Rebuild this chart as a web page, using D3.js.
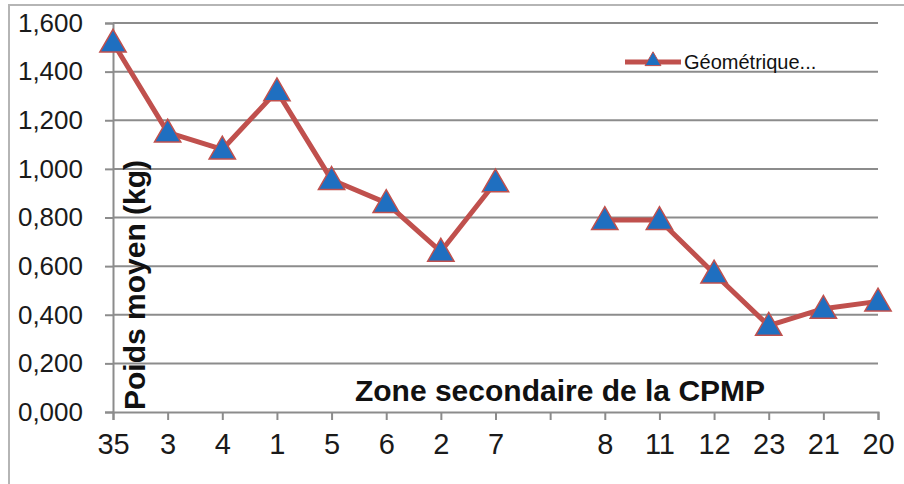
<!DOCTYPE html>
<html>
<head>
<meta charset="utf-8">
<script src="https://cdn.jsdelivr.net/npm/d3@7"></script>
<style>
  body { margin: 0; background: #fff; }
  text { font-family: "Liberation Sans", Arial, sans-serif; }
</style>
</head>
<body>
<div id="chart"></div>
<script>
// Zones (blank slot between 7 and 8 is kept as in the original)
var zones = ["35", "3", "4", "1", "5", "6", "2", "7", "", "8", "11", "12", "23", "21", "20"];
var poids = [1.52, 1.15, 1.08, 1.32, 0.955, 0.86, 0.66, 0.945, null, 0.79, 0.79, 0.57, 0.355, 0.425, 0.455];
var yTicks = [0, 0.2, 0.4, 0.6, 0.8, 1.0, 1.2, 1.4, 1.6];
var seriesName = "Géométrique...";

var width = 904, height = 484;
var margin = {top: 23, right: 26, bottom: 72, left: 113};
var chartW = width - margin.left - margin.right;
var chartH = height - margin.top - margin.bottom;

var lineColor = "#c0504d", markerColor = "#1f6fc0", gridColor = "#8c8c8c";

var svg = d3.select("#chart").append("svg")
  .attr("width", width)
  .attr("height", height);

// outer frame
svg.append("rect")
  .attr("x", 9).attr("y", 5)
  .attr("width", width).attr("height", height)
  .attr("fill", "none")
  .attr("stroke", "#b5b5b5")
  .attr("stroke-width", 2);

var g = svg.append("g")
  .attr("transform", "translate(" + margin.left + "," + margin.top + ")");

var xScale = d3.scalePoint()
  .domain(d3.range(zones.length))
  .range([0, chartW]);

var yScale = d3.scaleLinear()
  .domain([0, 1.6])
  .range([chartH, 0]);

var fmt = function(d) { return d3.format(".3f")(d).replace(".", ","); };

// gridlines
g.append("g").selectAll("line").data(yTicks.slice(1)).enter().append("line")
  .attr("x1", 0).attr("x2", chartW)
  .attr("y1", function(d) { return yScale(d); })
  .attr("y2", function(d) { return yScale(d); })
  .attr("stroke", gridColor).attr("stroke-width", 2);

// y axis
var yAxis = d3.axisLeft(yScale).tickValues(yTicks).tickFormat(fmt).tickSize(8).tickPadding(22);
var yG = g.append("g").call(yAxis);
yG.select(".domain").attr("stroke", gridColor).attr("stroke-width", 2);
yG.selectAll(".tick line").attr("stroke", gridColor).attr("stroke-width", 2);
yG.selectAll("text").style("font-size", "26px").attr("fill", "#1a1a1a");

// x axis
var xAxis = d3.axisBottom(xScale).tickFormat(function(i) { return zones[i]; }).tickSize(8).tickPadding(13);
var xG = g.append("g").attr("transform", "translate(0," + chartH + ")").call(xAxis);
xG.select(".domain").attr("stroke", gridColor).attr("stroke-width", 2);
xG.selectAll(".tick line").attr("stroke", gridColor).attr("stroke-width", 2);
xG.selectAll("text").style("font-size", "29px").attr("fill", "#1a1a1a");

// axis titles
g.append("text")
  .attr("transform", "rotate(-90)")
  .attr("x", -chartH + 2).attr("y", 32)
  .style("font-size", "30px").style("font-weight", "bold")
  .attr("fill", "#111")
  .text("Poids moyen (kg)");

g.append("text")
  .attr("x", 447).attr("y", 378)
  .attr("text-anchor", "middle")
  .style("font-size", "30px").style("font-weight", "bold")
  .attr("fill", "#111")
  .text("Zone secondaire de la CPMP");

// line
var line = d3.line()
  .defined(function(d) { return d != null; })
  .x(function(d, i) { return xScale(i); })
  .y(function(d) { return yScale(d); });

g.append("path")
  .datum(poids)
  .attr("d", line)
  .attr("fill", "none")
  .attr("stroke", lineColor)
  .attr("stroke-width", 5)
  .attr("stroke-linejoin", "round");

var tri = d3.symbol().type(d3.symbolTriangle).size(300);

g.append("g").selectAll("path")
  .data(poids.map(function(d, i) { return {v: d, i: i}; }).filter(function(d) { return d.v != null; }))
  .enter().append("path")
  .attr("d", tri)
  .attr("transform", function(d) { return "translate(" + xScale(d.i) + "," + (yScale(d.v) + 2) + ")"; })
  .attr("fill", markerColor)
  .attr("stroke", lineColor)
  .attr("stroke-width", 1.5);

// legend
var leg = svg.append("g").attr("transform", "translate(625,62)");
leg.append("line").attr("x1", 0).attr("x2", 56).attr("y1", 0).attr("y2", 0)
  .attr("stroke", lineColor).attr("stroke-width", 5);
leg.append("path").attr("d", d3.symbol().type(d3.symbolTriangle).size(110))
  .attr("transform", "translate(28,-1)")
  .attr("fill", markerColor).attr("stroke", lineColor).attr("stroke-width", 1);
leg.append("text").attr("x", 59).attr("y", 7)
  .style("font-size", "20px").attr("fill", "#111")
  .text(seriesName);
</script>
</body>
</html>
